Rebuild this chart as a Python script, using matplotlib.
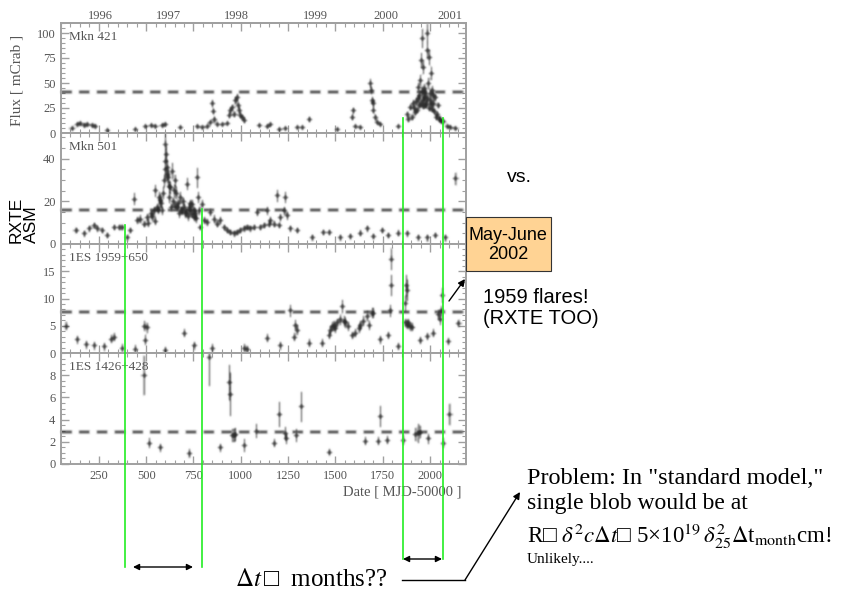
import matplotlib
matplotlib.use("Agg")
import numpy as np
import matplotlib.pyplot as plt
from matplotlib.patches import Rectangle
from matplotlib.ticker import FixedLocator, MultipleLocator
from matplotlib.transforms import blended_transform_factory

plt.rcParams["font.family"] = ["Liberation Serif", "DejaVu Serif"]
plt.rcParams["mathtext.fontset"] = "stix"

W, H = 843, 592
SANS = ["Liberation Sans", "DejaVu Sans"]
SCAN_TEXT = "#555555"
SCAN_AXIS = "#a0a0a0"
INK = "#2a2a2a"
GREEN = "#22ee22"

# RXTE ASM light curves, MJD-50000 / flux in mCrab
mkn421_day = [109, 136, 153, 171, 188, 215, 232, 294, 443, 496, 523, 549, 584, 602,
              681, 769, 795, 822, 839, 848, 852, 857, 874, 901, 927, 936, 945, 954,
              962, 971, 980, 983, 989, 998, 1006, 1015, 1094, 1138, 1156, 1200, 1235,
              1297, 1323, 1358, 1508, 1587, 1592, 1604, 1631, 1684, 1687, 1692, 1696,
              1701, 1710, 1719, 1736, 1833, 1877, 1886, 1895, 1904, 1912, 1915, 1921,
              1925, 1930, 1935, 1939, 1942, 1944, 1947, 1950, 1951, 1956, 1958, 1961,
              1963, 1965, 1968, 1970, 1974, 1975, 1979, 1982, 1985, 1986, 1991, 1993,
              1996, 1998, 2000, 2003, 2005, 2009, 2012, 2014, 2018, 2020, 2026, 2030,
              2035, 2044, 2045, 2053, 2060, 2070, 2088, 2105, 2130]
mkn421_flux = [5, 9, 10, 8, 9, 8, 7, 3, 4, 7, 8, 7, 8, 9,
               6, 7, 6, 7, 11, 30, 22, 14, 9, 9, 10, 18, 23, 26,
               19, 33, 36, 28, 23, 18, 16, 13, 8, 7, 9, 4, 5,
               6, 6, 14, 4, 16, 23, 7, 6, 50, 43, 33, 30,
               23, 16, 11, 9, 7, 19, 14, 26, 16, 30, 25, 21,
               32, 23, 35, 46, 38, 28, 53, 30, 73, 95, 42, 33,
               27, 66, 36, 45, 40, 28, 30, 83, 35, 100, 50, 25,
               76, 40, 33, 29, 60, 43, 24, 38, 30, 22, 36, 16,
               19, 28, 14, 14, 12, 12, 7, 6, 5]
mkn421_err = [2, 2, 2, 2, 2, 2, 2, 2, 2, 2, 2, 2, 2, 2,
              2, 2, 2, 2, 2, 4, 3, 3, 2, 2, 2, 3, 3, 3,
              3, 4, 4, 3, 3, 3, 3, 3, 2, 2, 2, 2, 2,
              2, 2, 3, 2, 3, 3, 2, 2, 5, 4, 4, 4,
              3, 3, 2, 2, 2, 3, 3, 3, 3, 4, 3, 3,
              4, 3, 4, 5, 4, 3, 6, 4, 8, 10, 5, 4,
              3, 7, 4, 5, 5, 3, 4, 9, 4, 10, 6, 3,
              8, 5, 4, 3, 7, 5, 3, 4, 4, 3, 4, 3,
              3, 3, 3, 3, 2, 2, 2, 2, 2]

mkn501_day = [127, 171, 197, 224, 241, 268, 294, 329, 356, 373, 400, 417, 435, 452,
              470, 488, 505, 510, 523, 530, 540, 545, 549, 558, 560, 567, 575, 580,
              584, 590, 593, 597, 600, 602, 605, 608, 611, 616, 619, 622, 628, 632,
              637, 640, 646, 650, 655, 660, 663, 668, 672, 681, 685, 690, 695, 699,
              707, 710, 716, 720, 725, 730, 734, 740, 743, 751, 755, 760, 765, 769,
              772, 778, 786, 795, 804, 822, 839, 857, 874, 892, 910, 927, 945, 962,
              980, 998, 1015, 1033, 1050, 1068, 1086, 1103, 1121, 1138, 1147, 1156,
              1173, 1191, 1200, 1208, 1226, 1235, 1244, 1261, 1297, 1376, 1437, 1464,
              1525, 1578, 1631, 1666, 1701, 1745, 1780, 1833, 1877, 1939, 1982, 2026,
              2079, 2132]
mkn501_flux = [6.5, 5.0, 7.3, 8.8, 7.3, 6.5, 4.2, 8.1, 8.1, 8.1, 3.4, 6.5, 21.3, 11.2,
               11.9, 9.6, 12.7, 10.0, 14.3, 13.0, 15.8, 11.0, 25.1, 17.4, 16.0, 22.0, 20.5, 19.0,
               15.8, 24.0, 29.8, 39.1, 35.0, 46.8, 42.2, 33.0, 36.0, 31.3, 22.0, 27.0, 26.6, 17.4,
               34.4, 20.0, 25.1, 18.0, 29.8, 24.0, 17.4, 19.0, 14.3, 22.0, 16.0, 15.8, 20.0, 17.4,
               14.3, 15.0, 28.2, 13.0, 17.4, 19.0, 15.8, 14.0, 18.9, 12.7, 16.0, 14.3, 12.0, 31.3,
               22.0, 15.8, 8.1, 18.9, 11.2, 10.4, 15.0, 11.9, 9.6, 11.2, 8.1, 6.5, 5.7, 5.0,
               5.7, 6.5, 7.3, 8.1, 7.3, 8.1, 15.0, 8.1, 8.8, 15.8, 9.6, 11.2,
               9.6, 22.8, 8.8, 12.7, 15.8, 22.0, 13.4, 7.3, 6.5, 3.4, 5.7, 5.7,
               3.4, 3.8, 5.3, 7.3, 3.8, 6.5, 4.2, 5.3, 5.0, 3.4, 3.1, 4.2,
               3.1, 30.7]
mkn501_err = [1.5, 1.5, 1.5, 1.5, 1.5, 1.5, 1.5, 1.5, 1.5, 1.5, 1.5, 1.5, 3, 2,
              2, 1.5, 2, 2, 2, 2, 2, 2, 3, 2, 2, 3, 3, 2,
              2, 3, 3, 4, 4, 5, 4, 4, 4, 4, 3, 3, 3, 2,
              4, 2, 3, 2, 3, 3, 2, 2, 2, 3, 2, 2, 2, 2,
              2, 2, 3, 2, 2, 2, 2, 2, 2, 2, 2, 2, 2, 5,
              3, 2, 1.5, 2, 2, 2, 2, 2, 1.5, 2, 1.5, 1.5, 1.5, 1.5,
              1.5, 1.5, 1.5, 1.5, 1.5, 1.5, 2, 1.5, 1.5, 2, 1.5, 2,
              1.5, 3, 1.5, 2, 2, 3, 2, 1.5, 1.5, 1.5, 1.5, 1.5,
              1.5, 1.5, 1.5, 1.5, 1.5, 1.5, 1.5, 1.5, 1.5, 1.5, 1.5, 1.5,
              1.5, 3]

es1959_day = [74, 136, 180, 224, 276, 312, 329, 373, 443, 487, 496, 505, 602, 698,
              751, 848, 1015, 1033, 1138, 1208, 1261, 1279, 1288, 1297, 1358, 1428, 1464,
              1473, 1481, 1490, 1499, 1508, 1525, 1534, 1543, 1552, 1569, 1587, 1604, 1622,
              1631, 1648, 1666, 1675, 1692, 1701, 1736, 1780, 1789, 1792, 1794, 1833, 1868,
              1870, 1875, 1877, 1880, 1886, 1895, 1904, 1947, 1982, 2018, 2044, 2050, 2056,
              2061, 2097, 2150]
es1959_flux = [5.0, 2.5, 1.6, 1.4, 1.2, 2.6, 3.0, 1.0, 0.8, 5.0, 2.4, 4.7, 0.5, 3.7,
               1.4, 1.0, 1.0, 0.7, 2.8, 1.4, 7.8, 3.0, 5.2, 4.3, 1.9, 1.9, 3.3,
               4.3, 4.9, 5.2, 4.6, 5.6, 6.2, 8.6, 5.9, 5.6, 4.9, 3.3, 3.7, 4.6,
               5.2, 5.9, 6.8, 5.2, 7.4, 7.4, 2.5, 3.3, 7.8, 12.5, 17.2, 1.3, 5.6,
               9.1, 12.5, 5.2, 11.6, 5.6, 4.9, 4.8, 2.4, 3.1, 3.7, 7.1, 6.2, 7.8,
               10.6, 2.2, 5.5]
es1959_err = [0.8, 0.8, 0.8, 0.8, 0.8, 0.8, 0.8, 0.8, 0.8, 1.0, 1.0, 1.0, 0.8, 0.8,
              0.8, 0.8, 0.8, 0.8, 0.8, 0.8, 1.2, 0.8, 1.0, 1.0, 0.8, 0.8, 0.8,
              0.9, 0.9, 0.9, 0.9, 0.9, 1.0, 1.3, 1.0, 1.0, 0.9, 0.8, 0.8, 0.9,
              0.9, 1.0, 1.0, 0.9, 1.0, 1.0, 0.8, 0.8, 1.2, 2.0, 2.0, 0.8, 0.8,
              1.5, 2.0, 0.8, 2.0, 0.8, 0.8, 0.8, 0.8, 0.8, 0.8, 1.0, 1.0, 1.0,
              1.5, 0.8, 0.8]

es1426_day = [487, 514, 575, 725, 830, 888, 940, 942, 954, 963, 971, 1015, 1082, 1173,
              1200, 1235, 1238, 1291, 1317, 1464, 1654, 1724, 1736, 1772, 1856, 1921,
              1938, 1947, 1991, 2070, 2100]
es1426_flux = [8.0, 1.9, 1.5, 1.0, 9.6, 1.5, 7.4, 6.3, 2.6, 2.6, 2.7, 1.7, 3.0, 1.9,
               4.5, 2.8, 2.3, 2.6, 5.2, 1.1, 2.1, 2.1, 4.3, 2.2, 2.2, 2.7,
               2.8, 2.9, 2.3, 1.9, 4.5]
es1426_err = [1.8, 0.5, 0.4, 0.4, 2.6, 0.4, 1.6, 2.0, 0.6, 0.6, 0.6, 0.6, 0.7, 0.4,
              1.2, 0.6, 0.5, 0.6, 1.4, 0.3, 0.4, 0.4, 1.0, 0.4, 0.5, 0.6,
              0.9, 0.6, 0.5, 0.5, 1.0]

source_names = ["Mkn 421", "Mkn 501", "1ES 1959+650", "1ES 1426+428"]
quiescent_level = [41, 15.8, 7.6, 2.85]
flux_max = [110, 52, 20, 10]
flux_ticks = [[0, 25, 50, 75, 100], [0, 20, 40], [0, 5, 10, 15], [0, 2, 4, 6, 8]]
flux_minor = [5, 5, 1, 0.5]

year_days = [256, 617, 978, 1392, 1767, 2105]
year_labels = ["1996", "1997", "1998", "1999", "2000", "2001"]

# flare windows marked across the panels (MJD-50000)
window_days = [388, 795, 1857, 2066]

XLIM = (50, 2190)
PANEL_LEFT, PANEL_RIGHT = 61, 466
PANEL_EDGES = [23, 133, 244, 353, 464]


def fig_rect(left, top, right, bottom):
    return [left / W, 1 - bottom / H, (right - left) / W, (bottom - top) / H]


def soften(img, dpi):
    # small separable binomial blur, gives the photocopied look of the panels
    pad = 2
    k = np.array([1, 4, 6, 4, 1], dtype=float) / 16
    out = np.pad(img, ((pad, pad), (pad, pad), (0, 0)))
    out = sum(k[i] * np.roll(out, i - pad, axis=0) for i in range(5))
    out = sum(k[i] * np.roll(out, i - pad, axis=1) for i in range(5))
    return out, -pad, -pad


def light_curve(ax, day, flux, err, level, name, ymax, yticks, yminor):
    points = ax.errorbar(day, flux, yerr=err, fmt="+", ms=4, mew=1.0, color=INK,
                         ecolor=INK, elinewidth=0.9, capsize=0)
    points.lines[0].set_agg_filter(soften)
    for coll in points.lines[2]:
        coll.set_agg_filter(soften)
    dash = ax.axhline(level, color="#2a2a2a", lw=1.6, dashes=(5, 3))
    dash.set_agg_filter(soften)
    ax.set_xlim(XLIM)
    ax.set_ylim(0, ymax)
    ax.xaxis.set_major_locator(MultipleLocator(250))
    ax.xaxis.set_minor_locator(MultipleLocator(50))
    ax.yaxis.set_major_locator(FixedLocator(yticks))
    ax.yaxis.set_minor_locator(MultipleLocator(yminor))
    ax.tick_params(which="both", direction="in", top=True, right=True,
                   color=SCAN_AXIS, labelcolor=SCAN_TEXT, labelsize=9, pad=4)
    ax.tick_params(which="major", length=6, width=1)
    ax.tick_params(which="minor", length=3, width=0.8)
    for spine in ax.spines.values():
        spine.set_color(SCAN_AXIS)
        spine.set_linewidth(1.4)
    ax.text(0.02, 0.87, name, transform=ax.transAxes, fontsize=9.5,
            color=SCAN_TEXT, ha="left", va="center")


fig = plt.figure(figsize=(W / 100, H / 100), dpi=100)

series = [
    (mkn421_day, mkn421_flux, mkn421_err),
    (mkn501_day, mkn501_flux, mkn501_err),
    (es1959_day, es1959_flux, es1959_err),
    (es1426_day, es1426_flux, es1426_err),
]
axes = []
for i, (day, flux, err) in enumerate(series):
    ax = fig.add_axes(fig_rect(PANEL_LEFT, PANEL_EDGES[i], PANEL_RIGHT, PANEL_EDGES[i + 1]))
    light_curve(ax, day, flux, err, quiescent_level[i], source_names[i],
                flux_max[i], flux_ticks[i], flux_minor[i])
    if i < 3:
        ax.tick_params(labelbottom=False)
    axes.append(ax)

top = axes[0].secondary_xaxis("top")
top.set_xticks(year_days, year_labels)
top.tick_params(length=0, pad=0.5, labelcolor=SCAN_TEXT, labelsize=9)
top.spines["top"].set_color(SCAN_AXIS)
top.spines["top"].set_linewidth(1.4)

axes[3].text(0.99, -0.25, "Date [ MJD-50000 ]", transform=axes[3].transAxes,
             ha="right", va="center", fontsize=10.5, color=SCAN_TEXT)

# slide layer in pixel coordinates (y grows downward)
ov = fig.add_axes([0, 0, 1, 1], zorder=5)
ov.set_xlim(0, W)
ov.set_ylim(H, 0)
ov.axis("off")

ov.text(17, 80, "Flux [ mCrab ]", rotation=90, ha="center", va="center",
        fontsize=11, color=SCAN_TEXT)
ov.text(24, 243, "RXTE\nASM", rotation=90, ha="center", va="bottom",
        multialignment="left", fontsize=12.5, family=SANS, linespacing=1.0)

# flare windows
xday = blended_transform_factory(axes[3].transData, ov.transData)
for day, y0, y1 in zip(window_days, [225, 209, 118, 118], [567, 567, 559, 559]):
    ov.plot([day, day], [y0, y1], transform=xday, color=GREEN, lw=1.2)

arrow_kw = dict(arrowstyle="<|-|>", color="black", lw=1.0, mutation_scale=9,
                shrinkA=0, shrinkB=0)
ov.annotate("", xy=(133, 567), xytext=(193, 567), arrowprops=arrow_kw)
ov.annotate("", xy=(403, 559), xytext=(442, 559), arrowprops=arrow_kw)

ov.text(235, 580, "$\\Delta t\\,$\u25a1  months??", ha="left", va="center", fontsize=18)
ov.plot([402, 465], [580, 580], color="black", lw=1.0)
ov.annotate("", xy=(520, 492), xytext=(465, 580),
            arrowprops=dict(arrowstyle="-|>", color="black", lw=1.0,
                            mutation_scale=10, shrinkA=0, shrinkB=0))

ov.text(519, 177, "vs.", ha="center", va="center", fontsize=14, family=SANS)
ov.add_patch(Rectangle((466, 217), 85, 54, facecolor="#FFD394",
                       edgecolor="#333333", lw=0.8))
ov.text(508, 245, "May-June\n2002", ha="center", va="center", fontsize=13,
        family=SANS, linespacing=1.1)
ov.annotate("", xy=(465, 279), xytext=(449, 301),
            arrowprops=dict(arrowstyle="-|>", color="black", lw=1.0,
                            mutation_scale=10, shrinkA=0, shrinkB=0))
ov.text(483, 308, "1959 flares!\n(RXTE TOO)", ha="left", va="center",
        fontsize=14.5, family=SANS, linespacing=1.15)

ov.text(527, 478, "Problem: In \"standard model,\"", ha="left", va="center", fontsize=17.5)
ov.text(527, 503, "single blob would be at", ha="left", va="center", fontsize=17)
ov.text(527, 536,
        "R\u25a1 $\\delta^2 c\\Delta t$\u25a1 5\u00d710$^{19}\\,\\delta^2_{25}\\Delta$t$_{\\rm month}$cm!",
        ha="left", va="center", fontsize=16.5)
ov.text(527, 560, "Unlikely....", ha="left", va="center", fontsize=11)

fig.savefig("out.png", dpi=100)
